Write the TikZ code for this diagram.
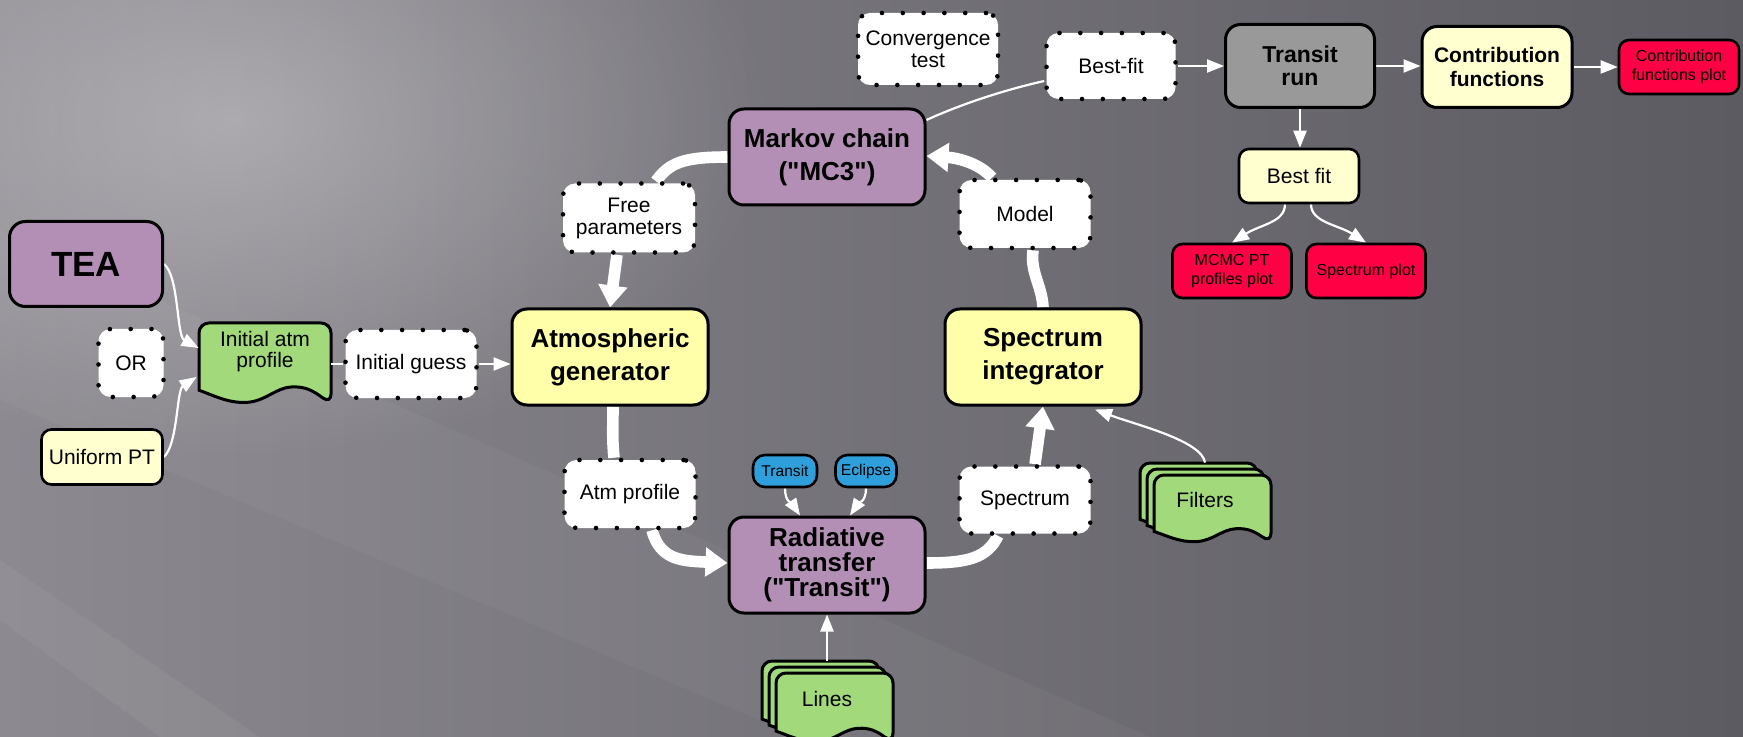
\documentclass[tikz,border=0pt]{standalone}
\usepackage{fontspec}
\setmainfont{Liberation Sans}[Ligatures=TeXOff]
\usetikzlibrary{arrows.meta,calc,fadings}
\pgfdeclarelayer{bg}
\pgfdeclarelayer{docs}
\pgfdeclarelayer{edges}
\pgfsetlayers{bg,docs,edges,main}
\definecolor{purp}{HTML}{B38FB6}
\definecolor{ylw}{HTML}{FFFFAA}
\definecolor{pale}{HTML}{FFFFD0}
\definecolor{grn}{HTML}{A2D97A}
\definecolor{rd}{HTML}{FF0044}
\definecolor{blu}{HTML}{2F9FDB}
\definecolor{gry}{HTML}{999999}
\definecolor{bgL}{HTML}{8C8990}
\definecolor{bgM}{HTML}{6F6D74}
\definecolor{bgR}{HTML}{5C5B61}
\tikzfading[name=glowfade, inner color=transparent!0, outer color=transparent!100]
\newcommand\docshape[4]{%
  \filldraw[docline] (#1,#2+0.83*#4) [rounded corners=5pt] -- (#1,#2) -- (#1+#3,#2) -- (#1+#3,#2+#4) [sharp corners]
   .. controls (#1+0.86*#3,#2+0.83*#4) and (#1+0.8*#3,#2+0.78*#4) .. (#1+0.7*#3,#2+0.79*#4)
   .. controls (#1+0.58*#3,#2+0.8*#4) and (#1+0.5*#3,#2+0.97*#4) .. (#1+0.36*#3,#2+0.98*#4)
   .. controls (#1+0.22*#3,#2+0.99*#4) and (#1+0.12*#3,#2+0.9*#4) .. (#1,#2+0.83*#4) -- cycle;}
\tikzset{
 every node/.style={inner sep=0pt, align=center},
 mainbox/.style={draw=black, line width=1.5pt, rounded corners=7.5pt, font=\bfseries\fontsize{13}{16.5}\selectfont, minimum width=98pt, minimum height=48pt},
 smallbox/.style={draw=black, line width=1.3pt, rounded corners=5pt},
 dotbox/.style={fill=white, draw=black, line width=2.3pt, dash pattern=on 0pt off 10.4pt, line cap=round, rounded corners=6pt, font=\fontsize{10.5}{11}\selectfont},
 docline/.style={fill=grn, draw=black, line width=1.5pt},
 doctext/.style={font=\fontsize{10.5}{10.5}\selectfont},
 thinline/.style={draw=white, line width=1.1pt},
 thinarrow/.style={thinline, -{Triangle[width=6.5pt,length=8.5pt]}},
 bigline/.style={draw=white, line width=5.8pt},
 bigarrow/.style={bigline, -{Triangle[width=14pt,length=11pt]}},
}
\begin{document}
\begin{tikzpicture}[x=0.5pt,y=-0.5pt]
\useasboundingbox (0,0) rectangle (1743,737);
\begin{pgfonlayer}{bg}
\shade[left color=bgL, middle color=bgM, right color=bgR] (0,0) rectangle (1743,737);
\fill[white, path fading=glowfade, fill opacity=0.32] (230,120) ellipse [x radius=270pt, y radius=170pt];
\fill[white, fill opacity=0.035] (0,230) -- (0,400) -- (800,737) -- (1150,737) -- cycle;
\fill[white, fill opacity=0.05] (0,560) -- (0,620) -- (160,737) -- (260,737) -- cycle;
\end{pgfonlayer}

% nodes
\node[mainbox, fill=purp, minimum width=76.5pt, minimum height=42.5pt, rounded corners=8pt, font=\bfseries\fontsize{17.5}{20}\selectfont] (tea) at (86,264) {TEA};
\node[dotbox, minimum width=32.5pt, minimum height=34pt] (or) at (131,363) {OR};
\node[smallbox, fill=pale, minimum width=60.5pt, minimum height=27.5pt, font=\fontsize{10.5}{12}\selectfont] (uniform) at (102,457) {Uniform PT};
\node[doctext, minimum width=66pt, minimum height=29pt] (init) at (265,352) {Initial atm\\profile};
\node[dotbox, minimum width=65.5pt, minimum height=34pt] (guess) at (411,364) {Initial guess};
\node[mainbox, fill=ylw] (atmgen) at (610,357) {Atmospheric\\generator};
\node[mainbox, fill=purp] (markov) at (827,157) {Markov chain\\("MC3")};
\node[mainbox, fill=ylw] (specint) at (1043,357) {Spectrum\\integrator};
\node[mainbox, fill=purp, font=\bfseries\fontsize{13}{12.5}\selectfont] (radiative) at (827,565) {Radiative\\transfer\\("Transit")};
\node[dotbox, minimum width=66pt, minimum height=34.5pt] (free) at (629,218) {Free\\parameters};
\node[dotbox, minimum width=65.5pt, minimum height=34pt] (model) at (1025,214) {Model};
\node[dotbox, minimum width=65.5pt, minimum height=34pt] (atmprof) at (630,494) {Atm profile};
\node[dotbox, minimum width=65.5pt, minimum height=33.5pt] (spectrum) at (1025,500) {Spectrum};
\node[smallbox, fill=blu, minimum width=32pt, minimum height=16pt, rounded corners=6pt, font=\fontsize{7.8}{9}\selectfont] (transitb) at (785,471) {Transit};
\node[smallbox, fill=blu, minimum width=30.5pt, minimum height=16pt, rounded corners=6pt, font=\fontsize{7.8}{9}\selectfont] (eclipse) at (866,471) {Eclipse};
\node[dotbox, minimum width=70pt, minimum height=36pt] (conv) at (928,49) {Convergence\\test};
\node[dotbox, minimum width=64.5pt, minimum height=33pt] (bestfit) at (1111,66) {Best-fit};
\node[mainbox, fill=gry, minimum width=74.5pt, minimum height=41.5pt, font=\bfseries\fontsize{11.5}{11.5}\selectfont] (transitrun) at (1300,66) {Transit\\run};
\node[mainbox, fill=pale, minimum width=75pt, minimum height=40.5pt, font=\bfseries\fontsize{10.5}{12}\selectfont] (contrib) at (1497,67) {Contribution\\functions};
\node[smallbox, fill=rd, minimum width=60pt, minimum height=27pt, font=\fontsize{8}{9.5}\selectfont] (contribplot) at (1679,67) {Contribution\\functions plot};
\node[smallbox, fill=pale, minimum width=60pt, minimum height=27pt, font=\fontsize{10.5}{12}\selectfont] (bf) at (1299,176) {Best fit};
\node[smallbox, fill=rd, minimum width=59.5pt, minimum height=27pt, font=\fontsize{8}{9.5}\selectfont] (mcmc) at (1232,271) {MCMC PT\\profiles plot};
\node[smallbox, fill=rd, minimum width=59.5pt, minimum height=27pt, font=\fontsize{8}{9.5}\selectfont] (specplot) at (1366,271) {Spectrum plot};
\node[doctext, minimum width=65.5pt, minimum height=37pt] (filters) at (1205,500) {Filters};
\node[doctext, minimum width=65.5pt, minimum height=38pt] (lines) at (827,699) {Lines};

\begin{pgfonlayer}{docs}
\docshape{199}{323}{132}{81}
\docshape{1140}{463}{117}{68}
\docshape{1147}{469}{117}{68}
\docshape{1154}{475}{117}{68}
\docshape{762}{661}{117}{70}
\docshape{769}{667}{117}{70}
\docshape{776}{673}{117}{70}
\end{pgfonlayer}

\begin{pgfonlayer}{edges}
% thin connectors
\draw[thinarrow] (tea.east) .. controls ($(tea.east)+(15,12)$) and ($(init.west)+(-22,-16)$) .. ($(init.west)+(0,-4)$);
\draw[thinarrow] (uniform.east) .. controls ($(uniform.east)+(14,-12)$) and ($(init.west)+(-22,38)$) .. ($(init.west)+(-2,25)$);
\draw[thinline] (guess.west -| init.east) -- (guess.west);
\draw[thinarrow] (guess.east) -- (guess.east -| atmgen.west);
\draw[thinline] ($(markov.east)+(0,-37)$) .. controls ($(markov.east)+(35,-53)$) and ($(bestfit.west)+(-40,24)$) .. ($(bestfit.west)+(0,15)$);
\draw[thinarrow] (bestfit.east) -- (transitrun.west);
\draw[thinarrow] (transitrun.east) -- (transitrun.east -| contrib.west);
\draw[thinarrow] (contrib.east) -- (contrib.east -| contribplot.west);
\draw[thinarrow] (transitrun.south) -- (transitrun.south |- bf.north);
\draw[thinarrow] ($(bf.south)+(-14,0)$) .. controls ($(bf.south)+(-14,18)$) and ($(mcmc.north)+(28,-18)$) .. (mcmc.north);
\draw[thinarrow] ($(bf.south)+(12,0)$) .. controls ($(bf.south)+(12,18)$) and ($(specplot.north)+(-28,-18)$) .. (specplot.north);
\draw[thinarrow] (transitb.south) .. controls ($(transitb.south)+(0,14)$) and ($(radiative.north)+(-35,-12)$) .. ($(radiative.north)+(-27,0)$);
\draw[thinarrow] (eclipse.south) .. controls ($(eclipse.south)+(0,14)$) and ($(radiative.north)+(31,-12)$) .. ($(radiative.north)+(23,0)$);
\draw[thinarrow] (lines.north) -- (radiative.south);
\draw[thinarrow] (filters.north) .. controls ($(filters.north)+(-3,-22)$) and ($(specint.south)+(92,18)$) .. ($(specint.south)+(52,3)$);
% thick cycle
\draw[bigline] (markov.west) .. controls ($(markov.west)+(-45,0)$) and ($(free.north)+(40,-18)$) .. ($(free.north)+(27,0)$);
\draw[bigarrow] ($(free.south)+(-12,0)$) -- (atmgen.north);
\draw[bigline] ($(atmgen.south)+(3,0)$) .. controls ($(atmgen.south)+(3,20)$) and ($(atmprof.north)+(-18,-20)$) .. ($(atmprof.north)+(-16,0)$);
\draw[bigarrow] ($(atmprof.south)+(22,0)$) .. controls ($(atmprof.south)+(30,30)$) and ($(radiative.west)+(-45,-4)$) .. ($(radiative.west)+(0,-2)$);
\draw[bigline] ($(radiative.east)+(0,-2)$) .. controls ($(radiative.east)+(42,-2)$) and ($(spectrum.south)+(-38,22)$) .. ($(spectrum.south)+(-27,0)$);
\draw[bigarrow] ($(spectrum.north)+(10,0)$) -- (specint.south);
\draw[bigline] (specint.north) .. controls ($(specint.north)+(-1,-22)$) and ($(model.south)+(5,22)$) .. ($(model.south)+(8,0)$);
\draw[bigarrow] ($(model.north)+(-33,0)$) .. controls ($(model.north)+(-45,-14)$) and ($(markov.east)+(32,1)$) .. ($(markov.east)+(0,-1)$);
\end{pgfonlayer}
\end{tikzpicture}
\end{document}
